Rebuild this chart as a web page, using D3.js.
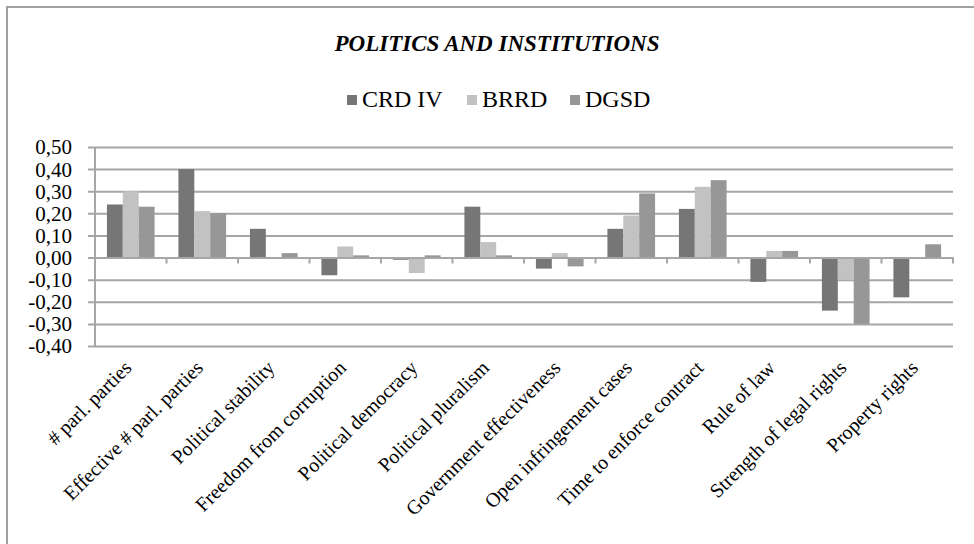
<!DOCTYPE html>
<html lang="en">
<head>
<meta charset="UTF-8">
<title>Politics and institutions</title>
<script src="https://cdn.jsdelivr.net/npm/d3@7"></script>
<style>
    body { margin: 0; background: #fff; }
</style>
</head>
<body>
<script>
// data
var categories = ["# parl. parties", "Effective # parl. parties", "Political stability",
    "Freedom from corruption", "Political democracy", "Political pluralism",
    "Government effectiveness", "Open infringement cases", "Time to enforce contract",
    "Rule of law", "Strength of legal rights", "Property rights"];
var seriesNames = ["CRD IV", "BRRD", "DGSD"];
var crd  = [0.24, 0.40, 0.13, -0.08, -0.01, 0.23, -0.05, 0.13, 0.22, -0.11, -0.24, -0.18];
var brrd = [0.30, 0.21, 0.00, 0.05, -0.07, 0.07, 0.02, 0.19, 0.32, 0.03, -0.10, 0.00];
var dgsd = [0.23, 0.20, 0.02, 0.01, 0.01, 0.01, -0.04, 0.29, 0.35, 0.03, -0.30, 0.06];
var yTicks = [0.5, 0.4, 0.3, 0.2, 0.1, 0, -0.1, -0.2, -0.3, -0.4];
var colors = ["#767676", "#c2c2c2", "#979797"];

var width = 974, height = 544;
var serif = "'Liberation Serif', 'Times New Roman', Times, serif";
// plot area (note: "top" is reserved on window, so use other names)
var plotL = 95, plotR = 953, plotT = 147, plotB = 346;

var svg = d3.select("body").append("svg")
    .attr("width", width)
    .attr("height", height);

// outer frame (only top and left edges visible)
svg.append("path")
    .attr("d", "M7,545 L7,7 L975,7")
    .attr("fill", "none")
    .attr("stroke", "#a0a0a0")
    .attr("stroke-width", 2);

var x0 = d3.scaleBand().domain(categories).range([plotL, plotR]);
var x1 = d3.scaleBand().domain(seriesNames).range([0, x0.bandwidth()])
    .paddingInner(0).paddingOuter(0.75);
var y = d3.scaleLinear().domain([-0.4, 0.5]).range([plotB, plotT]);

var fmt = function(d) { return d3.format(".2f")(d).replace(".", ",").replace("−", "-"); };

// gridlines + value labels
var yAxis = d3.axisLeft(y).tickValues(yTicks).tickSize(0).tickFormat(fmt).tickPadding(16);
var gy = svg.append("g")
    .attr("transform", "translate(" + (plotL - 7) + ",0)")
    .call(yAxis);
gy.attr("font-family", serif).attr("font-size", 21);
gy.select(".domain").remove();
gy.selectAll(".tick line")
    .attr("x1", 0).attr("x2", plotR - plotL + 7)
    .attr("stroke", "#a6a6a6").attr("stroke-width", 2);
gy.selectAll(".tick text")
    .style("font-family", serif)
    .style("font-size", "21px")
    .attr("dy", "0.33em");

// left axis line
svg.append("line")
    .attr("x1", plotL).attr("x2", plotL)
    .attr("y1", plotT).attr("y2", plotB)
    .attr("stroke", "#a6a6a6").attr("stroke-width", 2);

// bars
var rows = categories.map(function(c, i) {
    return { cat: c, vals: [crd[i], brrd[i], dgsd[i]] };
});
var groups = svg.selectAll(".grp").data(rows).enter().append("g")
    .attr("class", "grp")
    .attr("transform", function(d) { return "translate(" + x0(d.cat) + ",0)"; });
groups.selectAll("rect")
    .data(function(d) { return d.vals.map(function(v, j) { return { s: seriesNames[j], v: v, j: j }; }); })
    .enter().append("rect")
    .attr("x", function(d) { return x1(d.s); })
    .attr("width", x1.bandwidth())
    .attr("y", function(d) { return y(Math.max(0, d.v)); })
    .attr("height", function(d) { return Math.abs(y(d.v) - y(0)); })
    .attr("fill", function(d) { return colors[d.j]; });

// category axis at zero
var xAxis = d3.axisBottom(x0).tickSize(0).tickFormat("");
svg.append("g")
    .attr("transform", "translate(0," + y(0) + ")")
    .call(xAxis)
    .select(".domain")
    .attr("stroke", "#a6a6a6").attr("stroke-width", 2);
var bounds = categories.map(function(c) { return x0(c); }).concat([plotR]);
svg.selectAll(".ctick").data(bounds).enter().append("line")
    .attr("x1", function(d) { return d; }).attr("x2", function(d) { return d; })
    .attr("y1", y(0)).attr("y2", y(0) + 6)
    .attr("stroke", "#a6a6a6").attr("stroke-width", 2);

// rotated category labels
svg.selectAll(".clab").data(categories).enter().append("text")
    .attr("text-anchor", "end")
    .style("font-family", serif)
    .style("font-size", "20px")
    .attr("transform", function(d) {
        return "translate(" + (x0(d) + x0.bandwidth() / 2 + 2) + "," + (plotB + 23) + ") rotate(-45)";
    })
    .text(function(d) { return d; });

// title
svg.append("text")
    .attr("x", 497).attr("y", 51)
    .attr("text-anchor", "middle")
    .style("font-family", serif)
    .style("font-size", "23px")
    .style("font-weight", "bold")
    .style("font-style", "italic")
    .text("POLITICS AND INSTITUTIONS");

// legend
var legX = [347, 467, 570];
var leg = svg.selectAll(".leg").data(seriesNames).enter().append("g")
    .attr("transform", function(d, i) { return "translate(" + legX[i] + ",95)"; });
leg.append("rect")
    .attr("width", 10).attr("height", 10)
    .attr("fill", function(d, i) { return colors[i]; });
leg.append("text")
    .attr("x", 15).attr("y", 12)
    .style("font-family", serif)
    .style("font-size", "24px")
    .text(function(d) { return d; });
</script>
</body>
</html>
